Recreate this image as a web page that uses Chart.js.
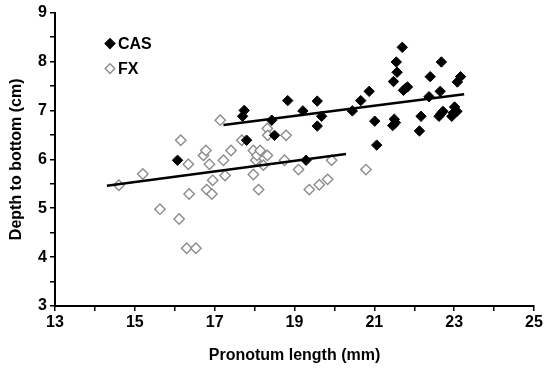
<!DOCTYPE html>
<html>
<head>
<meta charset="utf-8">
<script src="https://cdn.jsdelivr.net/npm/chart.js@4.4.1/dist/chart.umd.min.js"></script>
<style>
  html, body { margin: 0; padding: 0; background: #fff; overflow: hidden; }
  #wrap { width: 560px; height: 369px; }
</style>
</head>
<body>
<div id="wrap"><canvas id="chart"></canvas></div>
<script>
// =============================================================================
// DATA
// =============================================================================

// CAS (filled diamonds)
const casX = [16.07, 17.74, 17.70, 17.80, 18.43, 18.50, 18.83, 19.21, 19.29, 19.57,
  19.68, 19.57, 20.45, 20.66, 20.87, 21.01, 21.06, 21.50, 21.46, 21.53,
  21.48, 21.57, 21.55, 21.70, 21.73, 21.83, 21.78, 22.17, 22.13, 22.40,
  22.37, 22.65, 22.68, 22.62, 22.72, 22.67, 22.94, 23.01, 23.07, 22.98,
  23.08, 23.16];
const casY = [5.98, 7.00, 6.88, 6.39, 6.80, 6.49, 7.20, 6.99, 5.98, 7.19,
  6.88, 6.68, 6.99, 7.20, 7.39, 6.78, 6.29, 6.82, 6.69, 6.75,
  7.59, 7.78, 7.99, 8.29, 7.41, 7.48, 7.45, 6.88, 6.58, 7.69,
  7.28, 7.39, 7.99, 6.88, 6.98, 6.93, 6.88, 7.07, 6.98, 6.95,
  7.58, 7.69];

// FX (open diamonds)
const fxX = [14.60, 15.20, 15.63, 16.11, 16.15, 16.30, 16.53, 16.34, 16.36, 16.72,
  16.78, 16.80, 16.87, 16.93, 16.95, 17.14, 17.22, 17.26, 17.41, 17.68,
  17.97, 17.97, 18.03, 18.06, 18.10, 18.14, 18.22, 18.32, 18.33, 18.32,
  18.75, 18.79, 19.10, 19.37, 19.62, 19.83, 19.93, 20.79];
const fxY = [5.47, 5.70, 4.98, 4.78, 6.39, 4.18, 4.18, 5.90, 5.29, 6.08,
  6.18, 5.38, 5.90, 5.29, 5.57, 6.80, 5.98, 5.67, 6.18, 6.39,
  6.18, 5.69, 5.98, 6.08, 5.38, 6.18, 5.88, 6.63, 6.49, 6.08,
  5.98, 6.49, 5.79, 5.38, 5.48, 5.59, 5.98, 5.79];

// Fitted lines (end points)
const casFitX = [17.22, 23.25];
const casFitY = [6.70, 7.33];
const fxFitX = [14.30, 20.29];
const fxFitY = [5.46, 6.11];

// Axes
const xTickLabels = [13, 15, 17, 19, 21, 23, 25];
const yTickLabels = [3, 4, 5, 6, 7, 8, 9];
const seriesNames = ['CAS', 'FX'];

// =============================================================================
// HELPERS
// =============================================================================

const FONT = "'Liberation Sans', Arial, Helvetica, sans-serif";
const FX_GRAY = '#8c8c8c';

function toPoints(xs, ys) {
  return xs.map((x, i) => ({ x: x, y: ys[i] }));
}

// legend drawn inside the plot area, top-left
const innerLegend = {
  id: 'innerLegend',
  afterDraw(chart) {
    const ctx = chart.ctx;
    const area = chart.chartArea;
    const items = [
      { name: seriesNames[0], fill: '#000', stroke: '#000', y: area.top + 31 },
      { name: seriesNames[1], fill: '#fff', stroke: FX_GRAY, y: area.top + 56 }
    ];
    ctx.save();
    ctx.font = 'bold 16px ' + FONT;
    ctx.textBaseline = 'middle';
    items.forEach(it => {
      const cx = area.left + 55;
      const r = 4.8;
      ctx.beginPath();
      ctx.moveTo(cx, it.y - r);
      ctx.lineTo(cx + r, it.y);
      ctx.lineTo(cx, it.y + r);
      ctx.lineTo(cx - r, it.y);
      ctx.closePath();
      ctx.fillStyle = it.fill;
      ctx.fill();
      ctx.lineWidth = 1.4;
      ctx.strokeStyle = it.stroke;
      ctx.stroke();
      ctx.fillStyle = '#000';
      ctx.fillText(it.name, cx + 8, it.y + 1);
    });
    ctx.restore();
  }
};

// =============================================================================
// CHART
// =============================================================================

const ctx = document.getElementById('chart').getContext('2d');

new Chart(ctx, {
  type: 'scatter',
  data: {
    datasets: [
      {
        type: 'line',
        data: toPoints(casFitX, casFitY),
        borderColor: '#000',
        borderWidth: 2.5,
        pointRadius: 0,
        fill: false
      },
      {
        type: 'line',
        data: toPoints(fxFitX, fxFitY),
        borderColor: '#000',
        borderWidth: 2.5,
        pointRadius: 0,
        fill: false
      },
      {
        label: seriesNames[0],
        data: toPoints(casX, casY),
        pointStyle: 'rectRot',
        pointRadius: 5.2,
        pointBackgroundColor: '#000',
        pointBorderColor: '#000',
        pointBorderWidth: 1
      },
      {
        label: seriesNames[1],
        data: toPoints(fxX, fxY),
        pointStyle: 'rectRot',
        pointRadius: 5.2,
        pointBackgroundColor: '#fff',
        pointBorderColor: FX_GRAY,
        pointBorderWidth: 1.4
      }
    ]
  },
  options: {
    responsive: true,
    maintainAspectRatio: false,
    animation: false,
    events: [],
    layout: { padding: { top: 12, right: 26, bottom: 0, left: 0 } },
    plugins: {
      legend: { display: false },
      tooltip: { enabled: false }
    },
    scales: {
      x: {
        type: 'linear',
        min: 13,
        max: 25,
        afterFit: (scale) => { scale.height = 63; },
        border: { display: true, color: '#000', width: 2 },
        grid: {
          drawOnChartArea: false,
          drawTicks: true,
          tickLength: 5,
          color: '#000',
          lineWidth: 1.5
        },
        ticks: {
          stepSize: 1,
          autoSkip: false,
          maxRotation: 0,
          padding: 2,
          color: '#000',
          font: { family: FONT, size: 16, weight: 'bold' },
          callback: (val) => xTickLabels.includes(val) ? String(val) : ''
        },
        title: {
          display: true,
          text: 'Pronotum length (mm)',
          color: '#000',
          font: { family: FONT, size: 16, weight: 'bold' },
          padding: { top: 0, bottom: 4 }
        }
      },
      y: {
        type: 'linear',
        min: 3,
        max: 9,
        afterFit: (scale) => { scale.width = 55; },
        border: { display: true, color: '#000', width: 2 },
        grid: {
          drawOnChartArea: false,
          drawTicks: true,
          tickLength: 5,
          color: '#000',
          lineWidth: 1.5
        },
        ticks: {
          stepSize: 0.5,
          autoSkip: false,
          padding: 3,
          color: '#000',
          font: { family: FONT, size: 16, weight: 'bold' },
          callback: (val) => yTickLabels.includes(val) ? String(val) : ''
        },
        title: {
          display: true,
          text: 'Depth to bottom (cm)',
          color: '#000',
          font: { family: FONT, size: 16, weight: 'bold' },
          padding: { top: 7, bottom: 0 }
        }
      }
    }
  },
  plugins: [innerLegend]
});
</script>
</body>
</html>
